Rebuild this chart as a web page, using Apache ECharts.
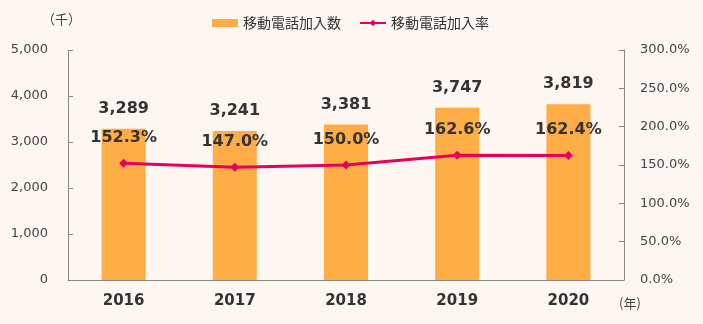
<!DOCTYPE html>
<html><head><meta charset="utf-8">
<script src="https://cdn.jsdelivr.net/npm/echarts@6/dist/echarts.min.js"></script>
<style>html,body{margin:0;padding:0;background:#fdf6f1}#c{width:703px;height:324px}</style>
</head><body><div id="c"></div>
<script>
const years = ['2016','2017','2018','2019','2020'];
const subscribers = [3289, 3241, 3381, 3747, 3819];
const rate = [152.3, 147.0, 150.0, 162.6, 162.4];
const leftTicks = [0, 1000, 2000, 3000, 4000, 5000];
const rightTicks = [0, 50, 100, 150, 200, 250, 300];

const font = '"DejaVu Sans", Verdana, sans-serif';
const jp = '"Noto Sans CJK JP", sans-serif';
const chart = echarts.init(document.getElementById('c'));
chart.setOption({
  backgroundColor: '#fdf6f1',
  animation: false,
  grid: {left: 68, right: 79, top: 50, bottom: 44},
  legend: {
    top: 11, left: 207, itemGap: 18, itemWidth: 26, itemHeight: 8,
    textStyle: {fontFamily: jp, fontSize: 14, color: '#333'},
    data: [{name: '移動電話加入数', icon: 'rect'}, {name: '移動電話加入率'}]
  },
  graphic: [
    {type: 'text', left: 42, top: 13, style: {text: '（千）', font: '13px ' + jp, fill: '#444'}},
    {type: 'text', left: 619, top: 297, style: {text: '(年)', font: '13px ' + jp, fill: '#444'}}
  ],
  xAxis: {
    type: 'category', data: years,
    axisLine: {lineStyle: {color: '#888'}},
    axisTick: {show: false},
    axisLabel: {fontFamily: font, fontWeight: 'bold', fontSize: 15, color: '#333', margin: 14}
  },
  yAxis: [
    {type: 'value', min: 0, max: 5000, interval: 1000,
      axisLine: {show: true, lineStyle: {color: '#888'}},
      axisTick: {show: true, inside: true, length: 5, lineStyle: {color: '#888'}},
      splitLine: {show: false},
      axisLabel: {fontFamily: font, fontSize: 13, color: '#444', margin: 20,
        formatter: v => v.toLocaleString('en-US')}},
    {type: 'value', min: 0, max: 300, interval: 50,
      axisLine: {show: true, lineStyle: {color: '#888'}},
      axisTick: {show: true, inside: true, length: 5, lineStyle: {color: '#888'}},
      splitLine: {show: false},
      axisLabel: {fontFamily: font, fontSize: 13, color: '#444', margin: 16,
        formatter: v => v.toFixed(1) + '%'}}
  ],
  series: [
    {name: '移動電話加入数', type: 'bar', data: subscribers, barWidth: 44,
      itemStyle: {color: '#ffad47'},
      label: {show: true, position: 'top', distance: 12, fontFamily: font, fontWeight: 'bold', fontSize: 16, color: '#333',
        formatter: p => p.value.toLocaleString('en-US')}},
    {name: '移動電話加入率', type: 'line', yAxisIndex: 1, data: rate,
      symbol: 'diamond', symbolSize: 9,
      lineStyle: {color: '#e6005a', width: 3}, itemStyle: {color: '#e6005a'},
      label: {show: true, position: 'top', distance: 13, fontFamily: font, fontWeight: 'bold', fontSize: 16, color: '#333',
        formatter: p => p.value.toFixed(1) + '%'}}
  ]
});
</script></body></html>
